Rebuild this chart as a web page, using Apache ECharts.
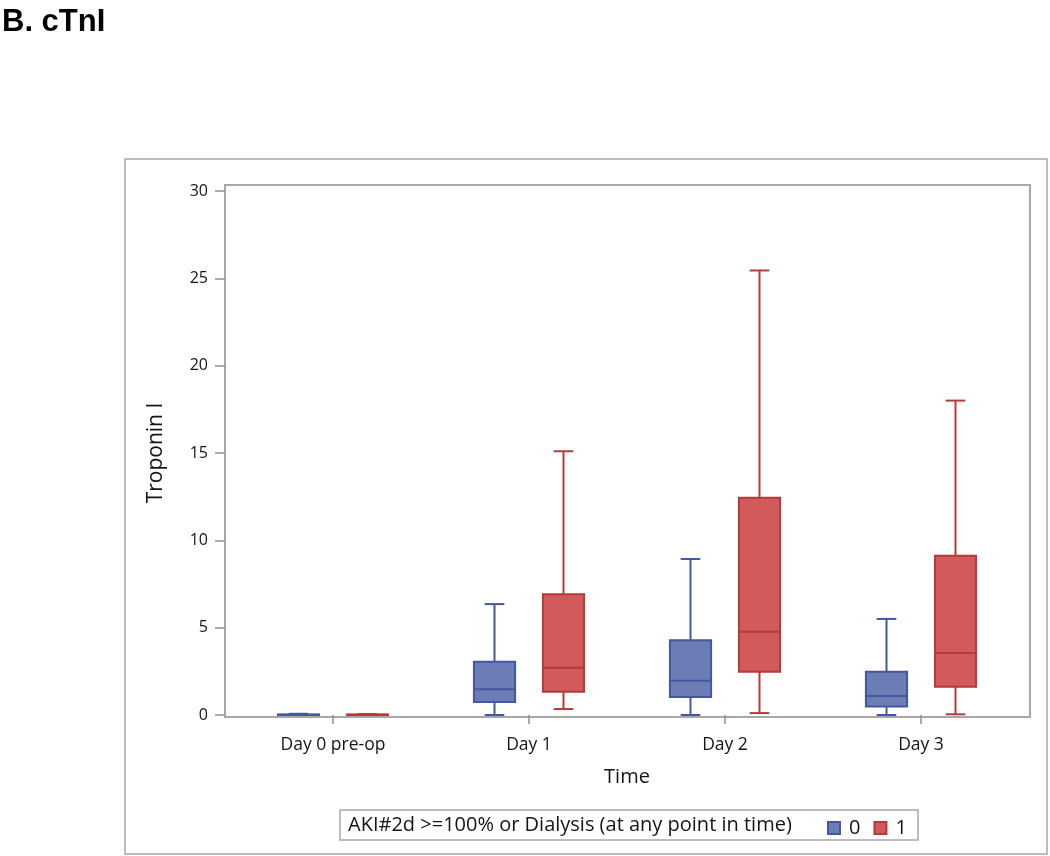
<!DOCTYPE html>
<html><head><meta charset="utf-8">
<script src="https://cdn.jsdelivr.net/npm/echarts@6/dist/echarts.min.js"></script>
<style>html,body{margin:0;padding:0;background:#fff}#c{width:1050px;height:856px}</style>
</head><body><div id="c"></div>
<script>
const categories = ['Day 0 pre-op', 'Day 1', 'Day 2', 'Day 3'];
const groupNames = ['0', '1'];
// each row: [min, Q1, median, Q3, max]
const group0 = [
  [0, 0.005, 0.015, 0.03, 0.07],
  [0, 0.74, 1.47, 3.05, 6.35],
  [0, 1.03, 1.96, 4.28, 8.93],
  [0, 0.48, 1.09, 2.48, 5.5]
];
const group1 = [
  [0, 0.01, 0.02, 0.03, 0.05],
  [0.34, 1.33, 2.71, 6.91, 15.1],
  [0.11, 2.48, 4.77, 12.44, 25.45],
  [0.04, 1.62, 3.55, 9.12, 18.0]
];
const yTicks = [0, 5, 10, 15, 20, 25, 30];
const legendTitle = 'AKI#2d >=100% or Dialysis (at any point in time)';

const FONT = 'Open Sans';
const TEXT = '#151515';
const colors = {
  '0': {fill: '#6c7cb4', stroke: '#4457a0'},
  '1': {fill: '#d35a5a', stroke: '#b53a3a'}
};

function boxRenderer(side, fill, stroke) {
  return function (params, api) {
    const ci = api.value(0);
    const band = api.size([1, 0])[0];
    const cx = api.coord([ci, 0])[0] + side * band * 0.176;
    const bw = band * 0.21, cw = band * 0.10;
    const y = i => api.coord([ci, api.value(i)])[1];
    const yMin = y(1), yQ1 = y(2), yMed = y(3), yQ3 = y(4), yMax = y(5);
    const ls = {stroke: stroke, lineWidth: 2};
    return {type: 'group', children: [
      {type: 'line', shape: {x1: cx, y1: yMax, x2: cx, y2: yQ3}, style: ls},
      {type: 'line', shape: {x1: cx, y1: yQ1, x2: cx, y2: yMin}, style: ls},
      {type: 'line', shape: {x1: cx - cw / 2, y1: yMax, x2: cx + cw / 2, y2: yMax}, style: ls},
      {type: 'line', shape: {x1: cx - cw / 2, y1: yMin, x2: cx + cw / 2, y2: yMin}, style: ls},
      {type: 'rect', shape: {x: cx - bw / 2, y: yQ3, width: bw, height: Math.max(yQ1 - yQ3, 0.5)},
        style: {fill: fill, stroke: stroke, lineWidth: 2}},
      {type: 'line', shape: {x1: cx - bw / 2, y1: yMed, x2: cx + bw / 2, y2: yMed}, style: ls}
    ]};
  };
}

function makeSeries(name, rows, side) {
  const c = colors[name];
  return {
    type: 'custom',
    name: name,
    xAxisIndex: 1, yAxisIndex: 1,
    itemStyle: {color: c.fill, borderColor: c.stroke, borderWidth: 1},
    renderItem: boxRenderer(side, c.fill, c.stroke),
    encode: {x: 0, y: [1, 2, 3, 4, 5]},
    data: rows.map((r, i) => [i].concat(r))
  };
}

const chart = echarts.init(document.getElementById('c'), null, {renderer: 'canvas'});
chart.setOption({
  animation: false,
  backgroundColor: '#fff',
  title: {
    text: 'B. cTnI', left: -3, top: 2,
    textStyle: {fontFamily: 'Liberation Sans', fontWeight: 'bold', fontSize: 31, color: '#000'}
  },
  graphic: [
    {type: 'rect', shape: {x: 125, y: 159, width: 922, height: 695},
      style: {fill: 'none', stroke: '#a8a8a8', lineWidth: 1.5}, z: -1},
    {type: 'rect', shape: {x: 340, y: 810, width: 578, height: 30},
      style: {fill: '#fff', stroke: '#a8a8a8', lineWidth: 1.5}, z: 1},
    {type: 'text', x: 348, y: 825, z: 2,
      style: {text: legendTitle, fontFamily: FONT, fontSize: 20, fill: TEXT, verticalAlign: 'middle'}}
  ],
  legend: {
    data: groupNames, left: 822, top: 813, icon: 'rect',
    itemWidth: 12, itemHeight: 12, itemGap: 13, z: 5,
    textStyle: {fontFamily: FONT, fontSize: 20, color: TEXT, padding: [0, 0, 0, 4]}
  },
  grid: [
    {left: 225, right: 20, top: 185, bottom: 139, show: true, borderColor: '#a8a8a8', borderWidth: 2, backgroundColor: 'transparent'},
    {left: 235, right: 31, top: 191, bottom: 141}
  ],
  xAxis: [
    {gridIndex: 0, type: 'value', show: false},
    {gridIndex: 1, type: 'category', data: categories, offset: 2,
      axisLine: {show: false},
      axisTick: {show: true, alignWithLabel: true, length: 9, lineStyle: {color: '#909090', width: 1.5}},
      axisLabel: {fontFamily: FONT, fontSize: 17.5, color: TEXT, margin: 19},
      name: 'Time', nameLocation: 'middle', nameGap: 50,
      nameTextStyle: {fontFamily: FONT, fontSize: 20, color: TEXT}}
  ],
  yAxis: [
    {gridIndex: 0, type: 'value', show: false},
    {gridIndex: 1, type: 'value', min: yTicks[0], max: yTicks[yTicks.length - 1], interval: yTicks[1] - yTicks[0], offset: 10,
      axisLine: {show: false},
      axisTick: {show: true, length: 10, lineStyle: {color: '#909090', width: 1.5}},
      splitLine: {show: false},
      axisLabel: {fontFamily: FONT, fontSize: 16, color: TEXT, margin: 17},
      name: 'Troponin I', nameLocation: 'middle', nameGap: 58,
      nameTextStyle: {fontFamily: FONT, fontSize: 21, color: TEXT}}
  ],
  series: [
    makeSeries(groupNames[0], group0, -1),
    makeSeries(groupNames[1], group1, 1)
  ]
});
</script>
</body></html>
